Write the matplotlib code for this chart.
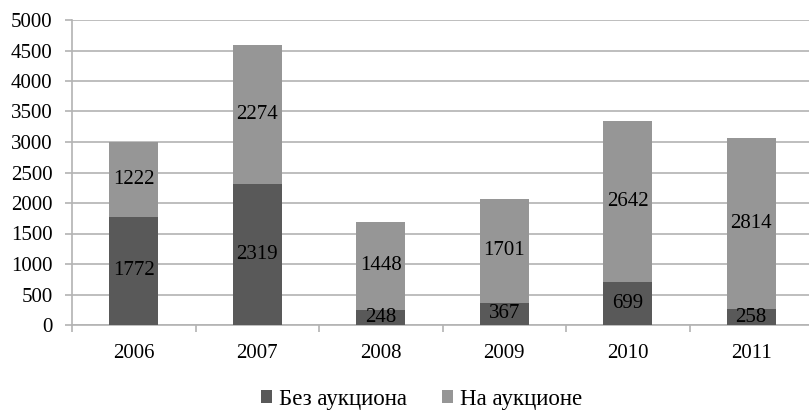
import matplotlib
matplotlib.use("Agg")
import matplotlib.pyplot as plt
import numpy as np

years = ["2006", "2007", "2008", "2009", "2010", "2011"]
no_auction = [1772, 2319, 248, 367, 699, 258]
auction = [1222, 2274, 1448, 1701, 2642, 2814]
series_names = ["Без аукциона", "На аукционе"]
y_ticks = [0, 500, 1000, 1500, 2000, 2500, 3000, 3500, 4000, 4500, 5000]

plt.rcParams["font.family"] = ["Liberation Serif", "DejaVu Serif"]

dark = "#595959"
light = "#969696"
grid_c = "#b3b3b3"
fs = 15

fig = plt.figure(figsize=(8.09, 4.12), dpi=100)
ax = fig.add_axes([72 / 809, 1 - 325 / 412, 741 / 809, 305 / 412])

x = np.arange(len(years))
w = 0.4
b1 = ax.bar(x, no_auction, w, color=dark, label=series_names[0], zorder=3)
b2 = ax.bar(x, auction, w, bottom=no_auction, color=light, label=series_names[1], zorder=3)

for xi, lo, hi in zip(x, no_auction, auction):
    ax.text(xi, lo / 2, str(lo), ha="center", va="center", fontsize=fs, color="black", zorder=4)
    ax.text(xi, lo + hi / 2, str(hi), ha="center", va="center", fontsize=fs, color="black", zorder=4)

ax.set_xlim(-0.5, len(years) - 0.5)
ax.set_ylim(0, 5000)
ax.set_yticks(y_ticks)
ax.set_yticklabels([str(t) for t in y_ticks], fontsize=fs)
ax.yaxis.grid(True, color=grid_c, linewidth=1.2, zorder=0)

ax.set_xticks(x)
ax.set_xticklabels(years, fontsize=fs)
ax.set_xticks(np.arange(len(years) + 1) - 0.5, minor=True)
ax.tick_params(axis="x", which="major", length=0, pad=14)
ax.tick_params(axis="x", which="minor", length=5, width=1.2, color=grid_c)
ax.tick_params(axis="y", length=5, width=1.2, color=grid_c, pad=9)

for s in ["top", "right"]:
    ax.spines[s].set_visible(False)
for s in ["left", "bottom"]:
    ax.spines[s].set_color(grid_c)
    ax.spines[s].set_linewidth(1.2)

fig.legend(handles=[b1, b2], labels=series_names, loc="center",
           bbox_to_anchor=(0.521, 1 - 399 / 412), ncol=2, frameon=False, fontsize=16.5,
           handlelength=0.5, handleheight=0.5, handletextpad=0.3, columnspacing=1.5,
           borderpad=0)

fig.savefig("out.png", dpi=100)
